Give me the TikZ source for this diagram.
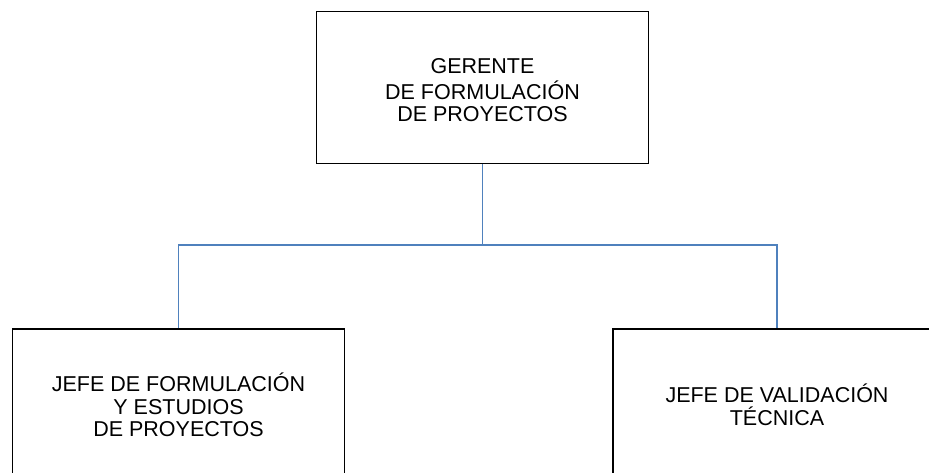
\documentclass[tikz,border=0pt]{standalone}
\usepackage{fontspec}
\setmainfont{Liberation Sans}
\usepackage{tikz}
\usetikzlibrary{positioning}
\usepackage{xcolor}
\definecolor{lineablue}{RGB}{79,129,189}

\begin{document}
\begin{tikzpicture}[
x=1pt, y=1pt,
box/.style={draw,
rectangle,
line width=1.6pt,
minimum width=332pt,
minimum height=152pt,
align=center,
font=\fontsize{21.5}{22.5}\selectfont},
link/.style={draw=lineablue, line width=1.2pt}
]

\useasboundingbox (0,0) rectangle (929,473);
\clip (0,0) rectangle (929,473);

\node[box] (gerente) at (482.5,385.5) {\rule{0pt}{20.7pt}GERENTE\\[3pt]DE FORMULACIÓN\\DE PROYECTOS};
\node[box] (jefeform) at (178.5,68) {JEFE DE FORMULACIÓN\\Y ESTUDIOS\\DE PROYECTOS};
\node[box, minimum width=328pt] (jefevalid) at (777,68) {JEFE DE VALIDACIÓN\\TÉCNICA};

\coordinate (split) at (482.5,228);
\draw[link] (gerente.south) -- (split);
\draw[link] (split) -| (jefeform.north);
\draw[link] (split) -| (jefevalid.north);

\end{tikzpicture}
\end{document}
